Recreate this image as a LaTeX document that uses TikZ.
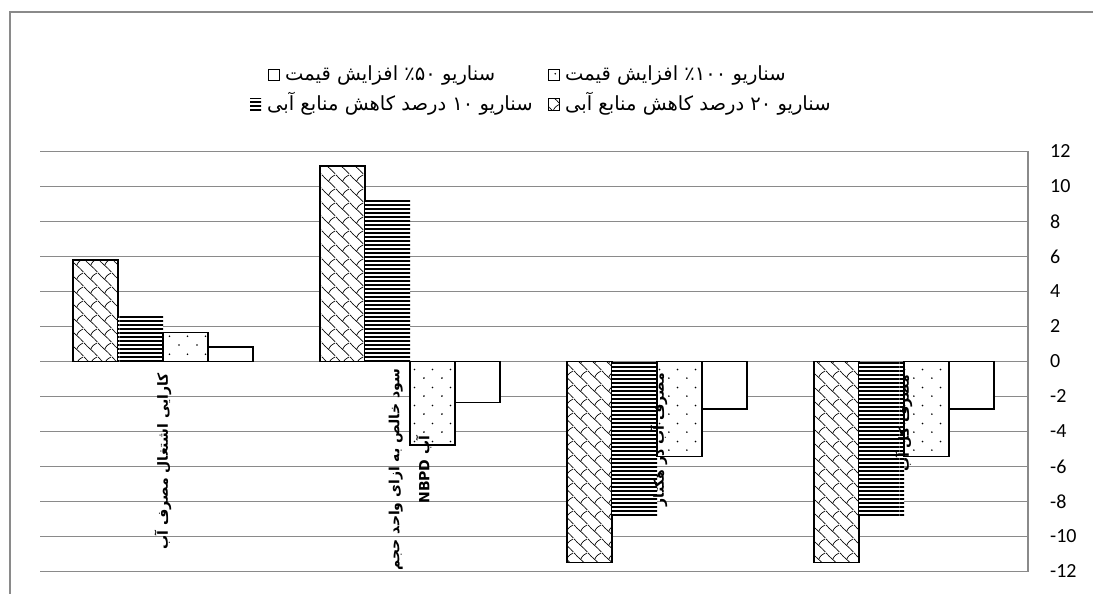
\documentclass[tikz,border=0pt]{standalone}
\usepackage{fontspec}
\usetikzlibrary{patterns.meta}
\newfontfamily\arabicfont[Script=Arabic]{DejaVu Sans}
\newfontfamily\axisfont{Carlito}
\TeXXeTstate=1
\definecolor{gridgray}{HTML}{8A8A8A}

% fill patterns of the four scenarios
\tikzdeclarepattern{name=shingle,type=uncolored,
  bounding box={(0pt,0pt) and (14pt,14pt)},tile size={(14pt,14pt)},
  code={\draw[line width=0.7pt] (0pt,14pt) .. controls (4pt,9pt) and (10pt,5pt) .. (14pt,0pt);
        \draw[line width=0.7pt] (7pt,7pt) .. controls (9pt,11pt) .. (14pt,14pt);}}
\tikzdeclarepattern{name=hlines,type=uncolored,
  bounding box={(0pt,0pt) and (60pt,4.4pt)},tile size={(60pt,4.4pt)},
  code={\fill (0pt,0pt) rectangle (60pt,2pt);}}
\tikzdeclarepattern{name=sparsedots,type=uncolored,
  bounding box={(0pt,0pt) and (17.5pt,17.5pt)},tile size={(17.5pt,17.5pt)},
  code={\fill (4pt,4pt) circle (0.9pt); \fill (12.75pt,12.75pt) circle (0.9pt);}}

\tikzset{
  gridline/.style={draw=gridgray,line width=1.3pt},
  hatchbar/.style={draw=black,line width=1.3pt,preaction={fill=white},pattern=shingle},
  linebar/.style={preaction={fill=white},pattern=hlines},
  dotbar/.style={draw=black,line width=1.3pt,preaction={fill=white},pattern=sparsedots},
  emptybar/.style={draw=black,line width=1.3pt,fill=white},
  legendtext/.style={anchor=west,inner sep=0pt,font=\arabicfont\fontsize{19.5}{22}\selectfont},
  catlabel/.style={rotate=90,anchor=east,align=center,inner sep=0pt,
    font=\arabicfont\bfseries\fontsize{14}{30}\selectfont},
  ticklabel/.style={anchor=west,inner sep=0pt,font=\axisfont\fontsize{20}{22}\selectfont}
}

% one bar: left edge, value, style
\newcommand{\chartbar}[3]{\path[#3] (#1,361.5) rectangle ({#1+45},{361.5-17.5*(#2)});}

\begin{document}
\begin{tikzpicture}[x=1pt,y=-1pt]
\useasboundingbox (0,0) rectangle (1093,594);
\draw[draw=gridgray,line width=1.3pt] (10,594) |- (1093,12);

% grid and value axis
\foreach \v in {-12,-10,...,12}{
  \draw[gridline] (40,{361.5-17.5*\v}) -- (1028,{361.5-17.5*\v});
  \node[ticklabel] at (1050,{361.5-17.5*\v}) {\v};
}
\draw[gridline] (1028,151) -- (1028,571.5);

% bars
\foreach \c/\a/\b/\d/\e in {40/5.8/2.6/1.65/0.83, 287/11.17/9.19/-4.77/-2.35,
    534/-11.5/-8.8/-5.44/-2.71, 781/-11.5/-8.8/-5.44/-2.71}{
  \chartbar{\c+33}{\a}{hatchbar}
  \chartbar{\c+78}{\b}{linebar}
  \chartbar{\c+123}{\d}{dotbar}
  \chartbar{\c+168}{\e}{emptybar}
}

% category labels
\node[catlabel] (effic) at (163,373) {\beginR کارایی اشتغال مصرف آب\endR};
\node[catlabel] (nbpd) at (410,369) {\beginR سود خالص به ازای واحد حجم\endR\\\beginR آب NBPD\endR};
\node[catlabel] (perha) at (659,373) {\beginR مصرف آب در هکتار\endR};
\node[catlabel] (total) at (904,375) {\beginR مصرف کل آب\endR};

% legend
\path[emptybar,line width=1pt] (268,70) rectangle (279,81);
\node[legendtext] (leg50) at (285,75) {\beginR سناریو ٪۵۰ افزایش قیمت\endR};
\path[dotbar,line width=1pt] (548,70) rectangle (559,81);
\node[legendtext] (leg100) at (565,75) {\beginR سناریو ٪۱۰۰ افزایش قیمت\endR};
\path[linebar] (250,99) rectangle (261,110);
\node[legendtext] (leg10) at (267,104) {\beginR سناریو ۱۰ درصد کاهش منابع آبی\endR};
\path[hatchbar,line width=1pt] (548,99) rectangle (559,110);
\node[legendtext] (leg20) at (565,104) {\beginR سناریو ۲۰ درصد کاهش منابع آبی\endR};
\end{tikzpicture}
\end{document}
